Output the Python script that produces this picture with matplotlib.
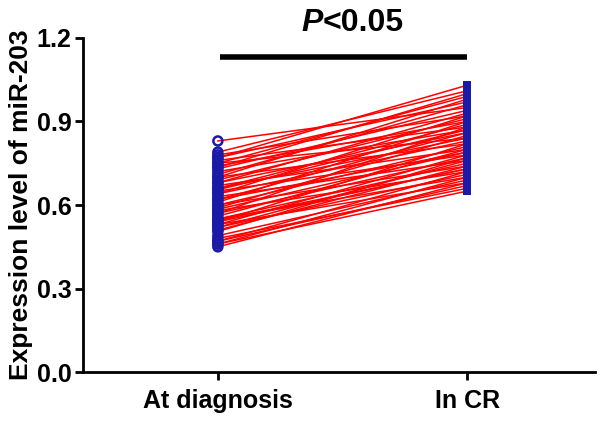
import matplotlib
matplotlib.use("Agg")
import matplotlib.pyplot as plt

# paired expression levels (one entry per patient)
groups = ["At diagnosis", "In CR"]
at_diagnosis = [0.83, 0.79, 0.78, 0.77, 0.77, 0.76, 0.75, 0.75, 0.74, 0.73,
                0.72, 0.71, 0.70, 0.70, 0.69, 0.68, 0.68, 0.67, 0.66, 0.66,
                0.65, 0.64, 0.64, 0.63, 0.62, 0.62, 0.61, 0.60, 0.60, 0.59,
                0.58, 0.57, 0.57, 0.56, 0.55, 0.55, 0.54, 0.54, 0.53, 0.53,
                0.52, 0.52, 0.51, 0.49, 0.48, 0.47, 0.47, 0.46, 0.46, 0.45,
                0.735, 0.655, 0.585, 0.545, 0.505]
in_cr = [0.95, 1.01, 0.92, 1.03, 0.97, 0.88, 0.99, 0.84, 0.90, 0.94,
         0.87, 0.96, 0.82, 0.98, 0.91, 0.86, 0.93, 0.80, 0.89, 0.84,
         0.78, 0.92, 0.83, 0.76, 0.86, 0.79, 0.90, 0.81, 0.74, 0.85,
         0.72, 0.77, 0.88, 0.80, 0.70, 0.75, 0.82, 0.73, 0.78, 0.68,
         0.71, 0.76, 0.74, 0.69, 0.66, 0.72, 0.67, 0.70, 0.65, 0.68,
         1.00, 0.87, 0.79, 0.73, 0.77]
y_ticks = [0.0, 0.3, 0.6, 0.9, 1.2]

plt.rcParams['font.family'] = ['Liberation Sans', 'DejaVu Sans']

fig = plt.figure(figsize=(6, 4.21), dpi=100)
ax = fig.add_axes([0.138, 0.116, 0.854, 0.794])

blue = '#1a1aa8'
for a, b in zip(at_diagnosis, in_cr):
    ax.plot([0, 1], [a, b], color='red', lw=1.1, zorder=2)
ax.scatter([0] * len(at_diagnosis), at_diagnosis, s=42, facecolors='none',
           edgecolors=blue, linewidths=1.8, zorder=3)
ax.scatter([1] * len(in_cr), in_cr, s=40, marker='s', color=blue,
           linewidths=0, zorder=3)

# significance bar
ax.plot([0.01, 1.0], [1.13, 1.13], color='black', lw=4, solid_capstyle='butt',
        clip_on=False)
ax.text(0.42, 1.198, "P", ha='right', va='bottom', fontsize=23,
        fontweight='bold', fontstyle='italic')
ax.text(0.42, 1.198, "<0.05", ha='left', va='bottom', fontsize=23,
        fontweight='bold')

ax.set_xlim(-0.542, 1.514)
ax.set_ylim(0, 1.2)
ax.set_xticks([0, 1])
ax.set_xticklabels(groups, fontsize=18, fontweight='bold')
ax.set_yticks(y_ticks)
ax.set_yticklabels([f"{v:.1f}" for v in y_ticks], fontsize=18, fontweight='bold')
ax.set_ylabel("Expression level of miR-203", fontsize=19, fontweight='bold',
              labelpad=3)

for s in ['top', 'right']:
    ax.spines[s].set_visible(False)
for s in ['left', 'bottom']:
    ax.spines[s].set_linewidth(2)
ax.tick_params(axis='y', width=2, length=6, pad=2)
ax.tick_params(axis='x', width=2, length=6, pad=6)

fig.savefig("out.png", dpi=100)
